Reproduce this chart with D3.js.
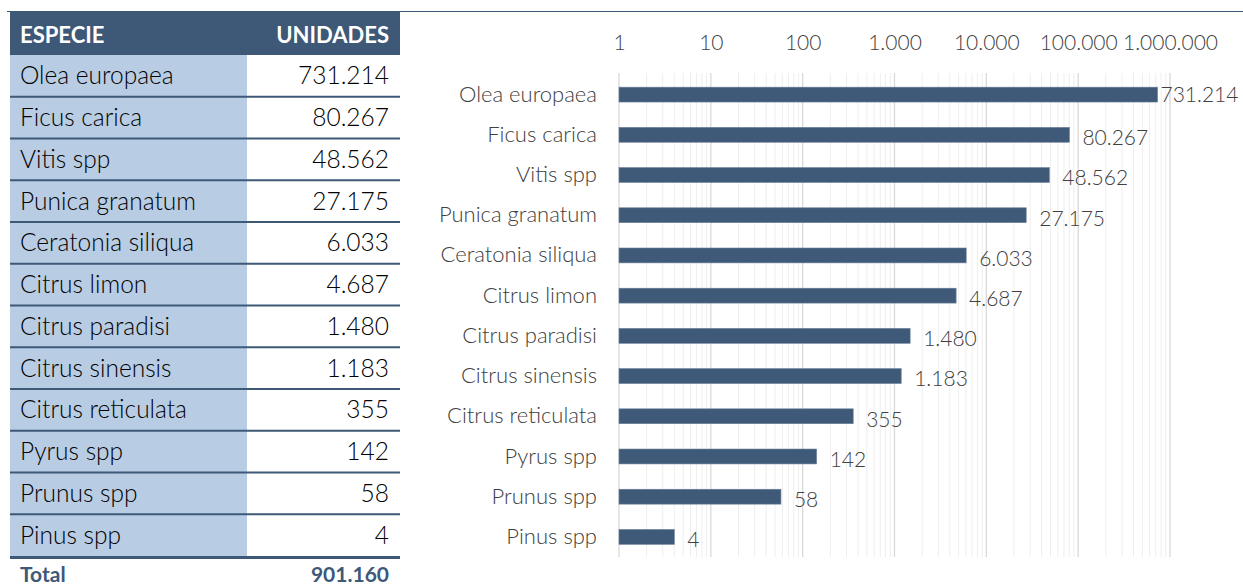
<!DOCTYPE html>
<html><head><meta charset="utf-8">
<script src="https://cdn.jsdelivr.net/npm/d3@7"></script>
<style>body{margin:0;background:#fff}svg{display:block}</style>
</head><body>
<svg id="c" width="1243" height="588"></svg>
<script>
const species = ["Olea europaea","Ficus carica","Vitis spp","Punica granatum","Ceratonia siliqua","Citrus limon","Citrus paradisi","Citrus sinensis","Citrus reticulata","Pyrus spp","Prunus spp","Pinus spp"];
const units = [731214,80267,48562,27175,6033,4687,1480,1183,355,142,58,4];
const tickValues = [1,10,100,1000,10000,100000,1000000];
const headers = ["ESPECIE","UNIDADES"];
const totalLabel = "Total";
const totalValue = 901160;

const loc = d3.formatLocale({decimal:",",thousands:".",grouping:[3],currency:["","€"]});
const fmt = loc.format(",d");
const dark = "#3e5878", light = "#b8cce4", txt = "#404040";
const svg = d3.select("#c");
const FONT = "Lato, 'Open Sans', sans-serif";

// top rule
svg.append("line").attr("x1",7).attr("x2",1243).attr("y1",11.5).attr("y2",11.5).attr("stroke",dark).attr("stroke-width",1.2);

// ---- Table ----
const tx0 = 10, tx1 = 400, tcol = 247;
const rowY = d3.scaleBand().domain(species).range([55,556]);
svg.append("rect").attr("x",tx0).attr("y",12).attr("width",tx1-tx0).attr("height",43).attr("fill",dark);
svg.append("text").attr("x",20).attr("y",35).attr("dy","0.35em").attr("fill","#fff").attr("font-family",FONT).attr("font-weight","bold").attr("font-size",22).text(headers[0]);
svg.append("text").attr("x",389).attr("y",35).attr("dy","0.35em").attr("text-anchor","end").attr("fill","#fff").attr("font-family",FONT).attr("font-weight","bold").attr("font-size",22).text(headers[1]);
const rows = svg.append("g").selectAll("g").data(species).join("g").attr("transform",d=>`translate(0,${rowY(d)})`);
rows.append("rect").attr("x",tx0).attr("width",tcol-tx0).attr("height",rowY.bandwidth()).attr("fill",light);
rows.filter((d,i)=>i>0).append("line").attr("x1",tx0).attr("x2",tx1).attr("y1",0).attr("y2",0).attr("stroke",dark).attr("stroke-width",2);
rows.append("text").attr("x",20).attr("y",rowY.bandwidth()/2).attr("dy","0.35em").attr("font-family",FONT).attr("font-weight",300).attr("font-size",24.5).attr("fill","#000").text(d=>d);
rows.append("text").attr("x",389).attr("y",rowY.bandwidth()/2).attr("dy","0.35em").attr("text-anchor","end").attr("font-family",FONT).attr("font-weight",300).attr("font-size",24.5).attr("fill","#000").text((d,i)=>fmt(units[i]));
svg.append("line").attr("x1",tx0).attr("x2",tx1).attr("y1",557.5).attr("y2",557.5).attr("stroke",dark).attr("stroke-width",3);
svg.append("text").attr("x",20).attr("y",575).attr("dy","0.35em").attr("font-family",FONT).attr("font-weight","bold").attr("font-size",21).attr("fill",dark).text(totalLabel);
svg.append("text").attr("x",389).attr("y",575).attr("dy","0.35em").attr("text-anchor","end").attr("font-family",FONT).attr("font-weight","bold").attr("font-size",21).attr("fill",dark).text(fmt(totalValue));

// ---- Chart ----
const x = d3.scaleLog().domain([1,1e6]).range([619,1170]);
const y = d3.scaleBand().domain(species).range([74.5,557]).paddingInner(0.63).paddingOuter(0.315);
const g = svg.append("g");
// minor gridlines
const minor = [];
for (let e=0;e<6;e++) for (let m=2;m<=9;m++) minor.push(m*Math.pow(10,e));
g.selectAll(".mn").data(minor).join("line").attr("x1",d=>x(d)).attr("x2",d=>x(d)).attr("y1",73).attr("y2",557).attr("stroke","#eeeeee").attr("stroke-width",1);
g.selectAll(".mj").data(tickValues).join("line").attr("x1",d=>x(d)).attr("x2",d=>x(d)).attr("y1",73).attr("y2",557).attr("stroke","#d9d9d9").attr("stroke-width",1.3);
// top axis labels
const ax = d3.axisTop(x).tickValues(tickValues).tickFormat(d=>fmt(d)).tickSize(0).tickPadding(0);
const axg = svg.append("g").attr("transform","translate(0,43)").call(ax);
axg.select(".domain").remove();
axg.selectAll("text").attr("font-family",FONT).attr("font-weight",300).attr("font-size",21).attr("fill",txt).attr("dy","0.35em");
// y labels
const ay = d3.axisLeft(y).tickSize(0).tickPadding(0);
const ayg = svg.append("g").attr("transform","translate(597,0)").call(ay);
ayg.select(".domain").remove();
ayg.selectAll("text").attr("font-family",FONT).attr("font-weight",300).attr("font-size",22).attr("fill",txt);
// bars
g.selectAll(".bar").data(species).join("rect").attr("x",x(1)).attr("y",d=>y(d)).attr("width",(d,i)=>x(units[i])-x(1)).attr("height",y.bandwidth()).attr("fill","#3f5a78").attr("stroke","#6b7f99").attr("stroke-width",0.6);
// value labels
g.selectAll(".lbl").data(species).join("text").attr("x",(d,i)=>x(units[i]) + (i===0?3:13)).attr("y",(d,i)=>y(d)+y.bandwidth()/2 + (i===0?0:3)).attr("dy","0.35em").attr("font-family",FONT).attr("font-weight",300).attr("font-size",21).attr("fill",txt).text((d,i)=>fmt(units[i]));
</script>
</body></html>
